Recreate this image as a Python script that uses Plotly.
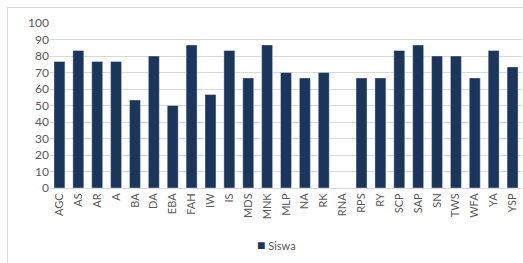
import plotly.graph_objects as go

categories = ["AGC", "AS", "AR", "A", "BA", "DA", "EBA", "FAH", "IW", "IS", "MDS", "MNK", "MLP",
              "NA", "RK", "RNA", "RPS", "RY", "SCP", "SAP", "SN", "TWS", "WFA", "YA", "YSP"]
siswa = [76.67, 83.33, 76.67, 76.67, 53.33, 80, 50, 86.67, 56.67, 83.33, 66.67, 86.67, 70,
         66.67, 70, 0, 66.67, 66.67, 83.33, 86.67, 80, 80, 66.67, 83.33, 73.33]
y_ticks = list(range(0, 101, 10))
series_name = "Siswa"
bar_color = "#1b365d"

fig = go.Figure()
fig.add_trace(go.Bar(
    x=categories, y=siswa, name=series_name,
    marker=dict(color=bar_color, line=dict(color="rgba(255,255,255,0.6)", width=0.6)),
    showlegend=False,
))

fig.update_layout(
    width=523, height=263,
    margin=dict(l=50, r=1, t=23, b=75),
    paper_bgcolor="white", plot_bgcolor="white",
    bargap=0.42,
    font=dict(family="Lato, Open Sans, sans-serif", size=11, color="#595959"),
    showlegend=False,
    xaxis=dict(tickangle=-90, showgrid=False, showline=True, linecolor="#d9d9d9",
               ticks="", tickfont=dict(size=11, color="#595959")),
    yaxis=dict(range=[0, 100], tickvals=y_ticks, showgrid=True, gridcolor="#d9d9d9",
               gridwidth=1, zeroline=False, showline=False, ticks="",
               tickfont=dict(size=12, color="#595959")),
)
# legend-like label
fig.add_annotation(
    xref="paper", yref="paper", x=0.48, y=-0.345, xanchor="center", yanchor="middle",
    text=f"<span style='color:{bar_color};font-size:14px'>■</span> {series_name}", showarrow=False,
    font=dict(size=11, color="#595959"),
)
fig.add_shape(type="rect", xref="paper", yref="paper", x0=-0.09, x1=1.1, y0=-1.0, y1=1.094,
              line=dict(color="#d9d9d9", width=1), fillcolor="rgba(0,0,0,0)", layer="below")

fig.write_html(
    "out.html",
    config={"displayModeBar": False},
    post_script="document.body.style.margin='0';document.body.style.overflow='hidden';",
)
